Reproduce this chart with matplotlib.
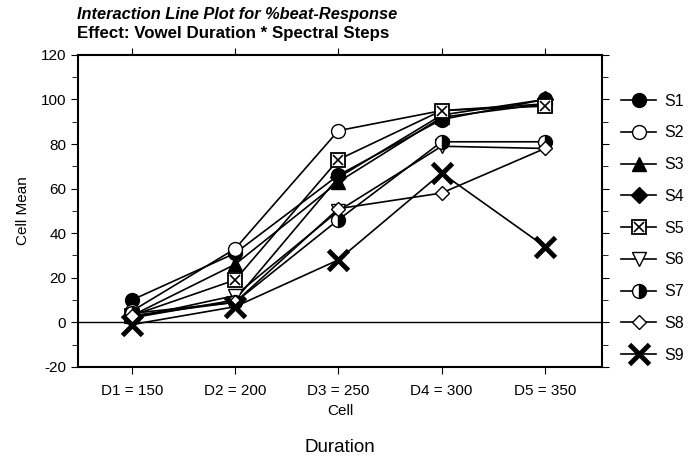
import matplotlib
matplotlib.use("Agg")
import matplotlib.pyplot as plt
from matplotlib.legend_handler import HandlerTuple
from matplotlib.ticker import MultipleLocator

plt.rcParams["font.family"] = ["Liberation Sans", "DejaVu Sans"]
plt.rcParams["axes.unicode_minus"] = False

cells = ["D1 = 150", "D2 = 200", "D3 = 250", "D4 = 300", "D5 = 350"]
S1 = [10, 31, 66, 91, 100]
S2 = [5, 33, 86, 95, 98]
S3 = [3, 26, 63, 92, 98]
S4 = [2, 10, 65, 93, 100]
S5 = [3, 19, 73, 95, 97]
S6 = [2, 12, 50, 79, 78]
S7 = [4, 9, 46, 81, 81]
S8 = [3, 9, 51, 58, 78]
S9 = [-1, 7, 28, 67, 34]

series = [("S1", S1), ("S2", S2), ("S3", S3), ("S4", S4), ("S5", S5),
          ("S6", S6), ("S7", S7), ("S8", S8), ("S9", S9)]

styles = {
    "S1": dict(marker="o", ms=10, mfc="black", mec="black"),
    "S2": dict(marker="o", ms=10, mfc="white", mec="black"),
    "S3": dict(marker="^", ms=10, mfc="black", mec="black"),
    "S4": dict(marker="D", ms=8, mfc="black", mec="black"),
    "S5": dict(marker="s", ms=10, mfc="white", mec="black", mew=1.3),
    "S6": dict(marker="v", ms=10, mfc="white", mec="black"),
    "S7": dict(marker="o", ms=10, mfc="black", mec="black",
               fillstyle="right", markerfacecoloralt="white"),
    "S8": dict(marker="D", ms=7, mfc="white", mec="black"),
    "S9": dict(marker="x", ms=14, mfc="black", mec="black", mew=3.5),
}

fig = plt.figure(figsize=(6.98, 4.65), dpi=100)
ax = fig.add_axes([0.112, 0.211, 0.750, 0.671])

x = list(range(1, len(cells) + 1))
handles = []
for name, vals in series:
    ln, = ax.plot(x, vals, color="black", lw=1.2, **styles[name])
    if name == "S5":
        # box with a cross inside
        cross, = ax.plot(x, vals, ls="none", marker="x", ms=7, mec="black", mew=1.2)
        handles.append((ln, cross))
    else:
        handles.append(ln)

ax.axhline(0, color="black", lw=1.0, zorder=0)

ax.set_xlim(0.48, 5.55)
ax.set_ylim(-20, 120)
ax.set_xticks(x)
ax.set_xticklabels(cells, fontsize=11)
ax.yaxis.set_major_locator(MultipleLocator(20))
ax.yaxis.set_minor_locator(MultipleLocator(10))
ax.tick_params(axis="y", which="both", left=True, right=True, direction="out", labelsize=11)
ax.tick_params(axis="y", which="major", length=5)
ax.tick_params(axis="y", which="minor", length=4)
ax.tick_params(axis="x", top=True, bottom=True, direction="out", length=5, pad=7)
for s in ax.spines.values():
    s.set_linewidth(1.5)

ax.set_ylabel("Cell Mean", fontsize=11, labelpad=8)
ax.set_xlabel("Cell", fontsize=11, labelpad=5)

fig.text(0.110, 0.985, "Interaction Line Plot for %beat-Response",
         fontsize=11.8, fontweight="bold", fontstyle="italic", va="top")
fig.text(0.110, 0.945, "Effect: Vowel Duration * Spectral Steps",
         fontsize=12.2, fontweight="bold", va="top")
fig.text(0.487, 0.038, "Duration", fontsize=13.5, ha="center", va="center")

ax.legend(handles, [n for n, _ in series], loc="upper left",
          bbox_to_anchor=(1.01, 0.922), frameon=False, fontsize=11.5,
          handlelength=2.2, labelspacing=1.05, handletextpad=0.5,
          handler_map={tuple: HandlerTuple(ndivide=1)})

fig.savefig("out.png", dpi=100)
